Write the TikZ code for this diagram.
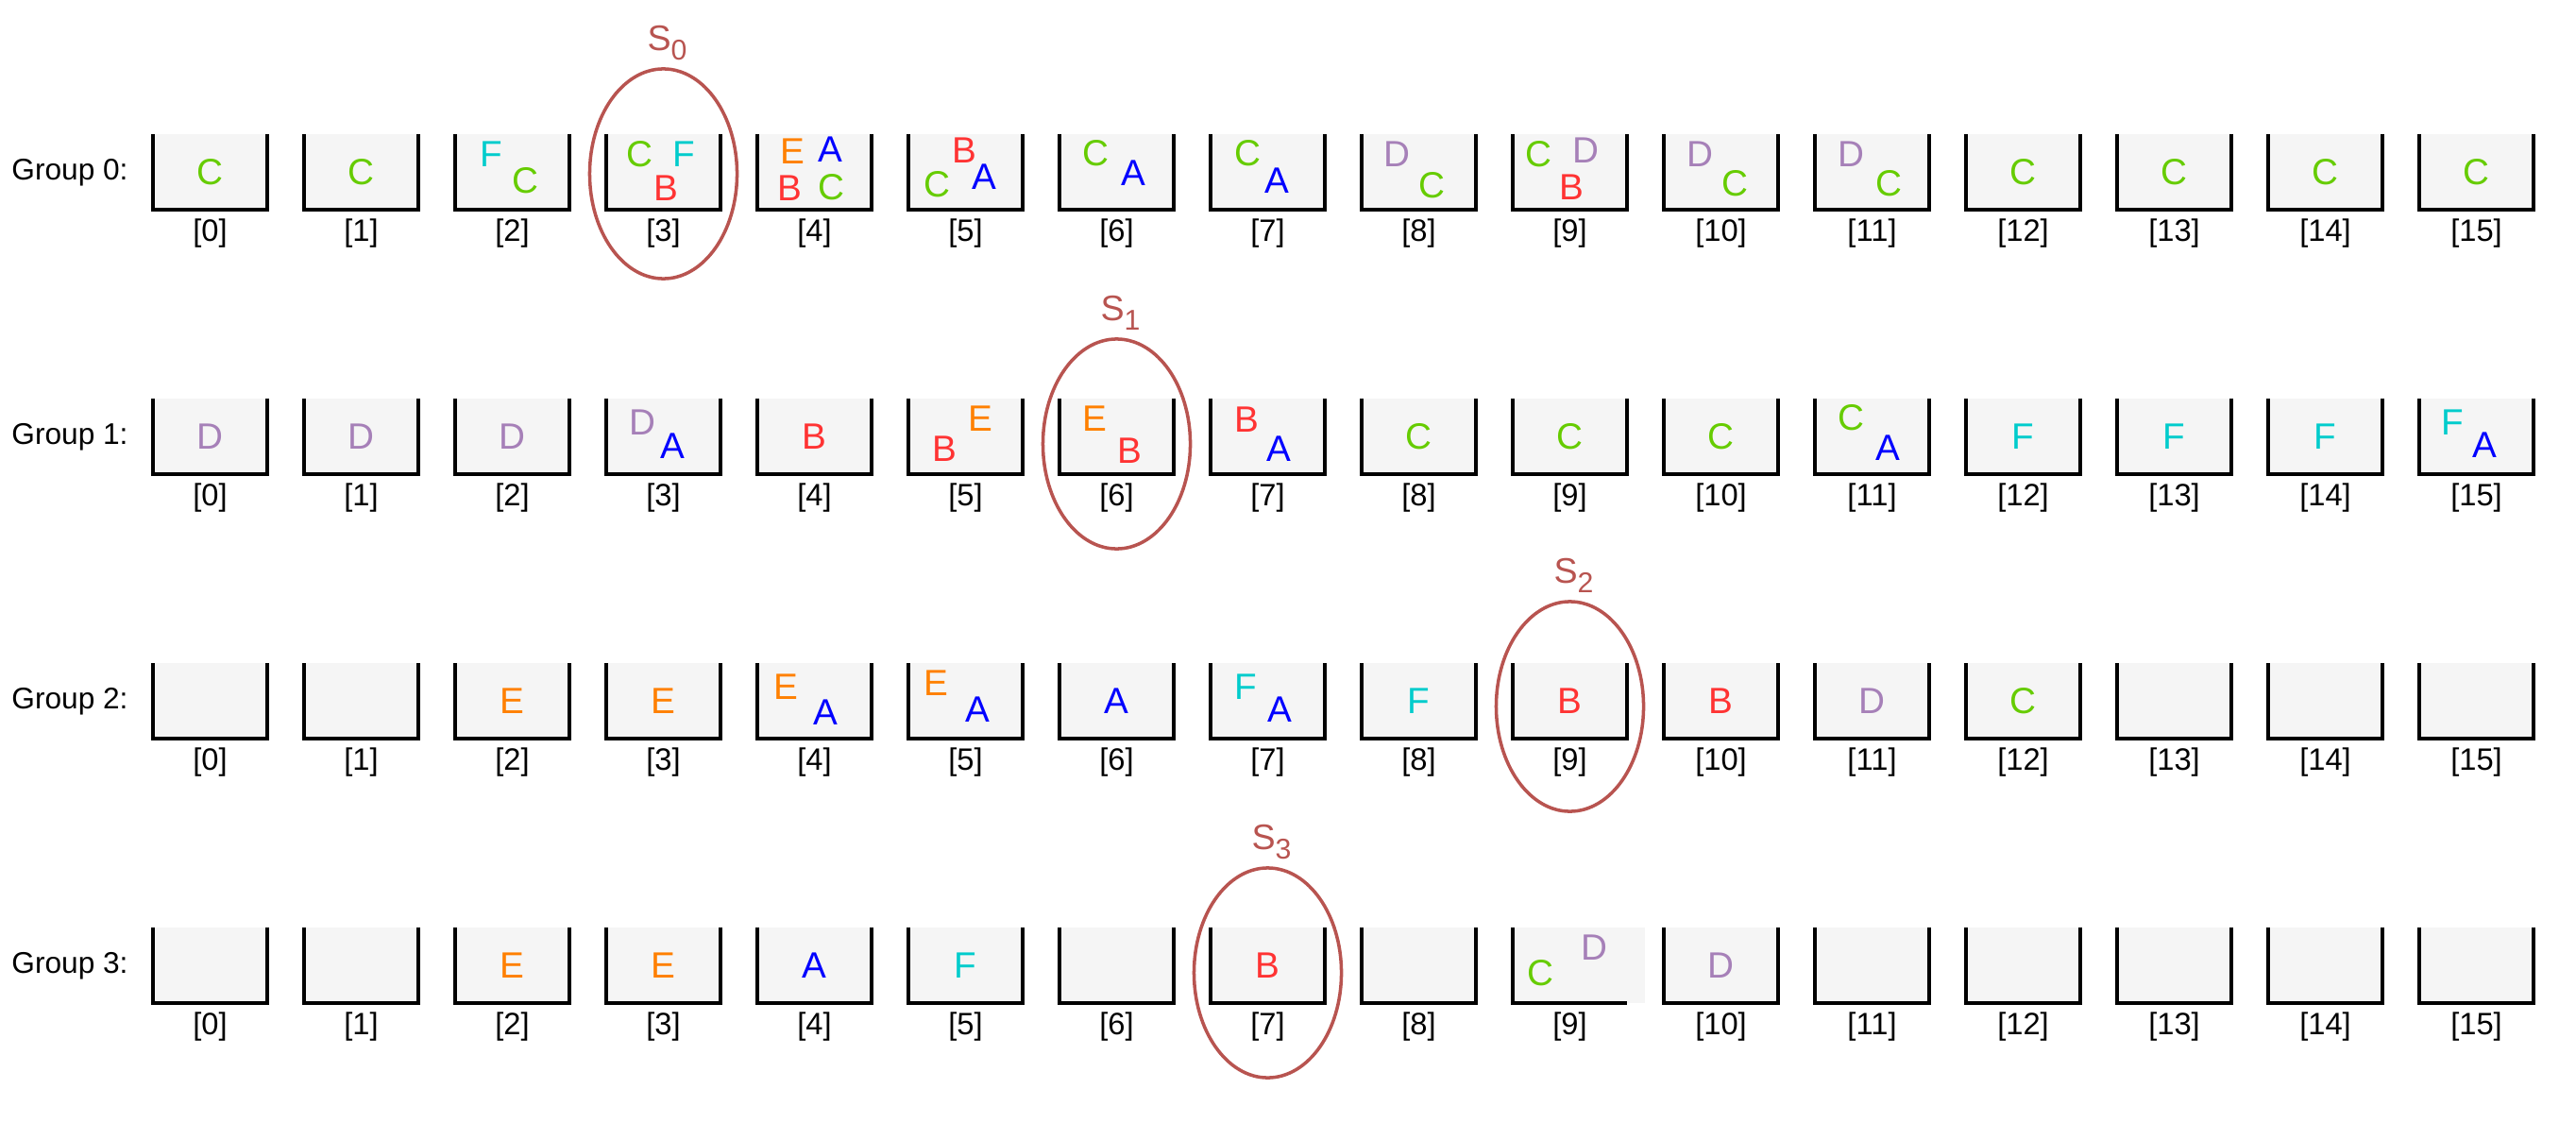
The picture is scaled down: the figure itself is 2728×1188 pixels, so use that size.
\documentclass[tikz,border=0pt]{standalone}
\usepackage{fontspec}
\setmainfont{Liberation Sans}
\usetikzlibrary{shapes.geometric}
\definecolor{ltrgreen}{HTML}{66CC00}
\definecolor{ltrcyan}{HTML}{00CCCC}
\definecolor{ltrred}{HTML}{FF3333}
\definecolor{ltrblue}{HTML}{0000FF}
\definecolor{ltrorange}{HTML}{FF8000}
\definecolor{ltrpurple}{HTML}{A680B8}
\definecolor{pickred}{HTML}{B85450}
\definecolor{slotgray}{HTML}{F5F5F5}
\begin{document}
\begin{tikzpicture}[x=0.01cm,y=-0.01cm,
  slot/.style={draw=black,line width=1.1pt},
  slotF/.style={fill=slotgray},
  idx/.style={font=\fontsize{9.3}{11}\selectfont},
  grp/.style={anchor=east,font=\fontsize{9}{11}\selectfont},
  ltr/.style={inner sep=0pt,font=\fontsize{11}{12}\selectfont},
  ltrA/.style={ltr,text=ltrblue},ltrB/.style={ltr,text=ltrred},
  ltrC/.style={ltr,text=ltrgreen},ltrD/.style={ltr,text=ltrpurple},
  ltrE/.style={ltr,text=ltrorange},ltrF/.style={ltr,text=ltrcyan},
  pick/.style={shape=ellipse,draw=pickred,line width=1pt,inner sep=0pt,minimum width=1.56cm,minimum height=2.22cm},
  pickS/.style={anchor=base,text=pickred,font=\fontsize{10.7}{12}\selectfont}]
\def\dx{160};
\def\dy{280};
\useasboundingbox (0,0) rectangle (2728,1188);

\foreach \r in {0,...,3}{
  \node[grp] (g\r) at (148,183+\r*\dy) {Group \r:};
  \foreach \i in {0,...,15}{
    \coordinate (b\r-\i) at (222.5+\i*\dx,182+\r*\dy);
    \pgfmathtruncatemacro\k{16*\r+\i}
    \ifnum\k=57
      \fill[slotF] (162+\i*\dx,142+\r*\dy) rectangle ++(140,80);
      \draw[slot] (162+\i*\dx,142+\r*\dy) -- ++(0,80) -- ++(121,0);
    \else
      \fill[slotF] (162+\i*\dx,142+\r*\dy) rectangle ++(121,80);
      \draw[slot] (162+\i*\dx,142+\r*\dy) -- ++(0,80) -- ++(121,0) -- ++(0,-80);
    \fi
    \node[idx] (n\r-\i) at (222.5+\i*\dx,247+\r*\dy) {[\i]};
  }
}

% group 0
\node[ltrC] (l0-0C) at (b0-0) {C};
\node[ltrC] (l0-1C) at (b0-1) {C};
\node[ltrF] (l0-2F) at ([shift={(-22,-19)}]b0-2) {F};
\node[ltrC] (l0-2C) at ([shift={(14,9)}]b0-2) {C};
\node[ltrC] (l0-3C) at ([shift={(-25,-19)}]b0-3) {C};
\node[ltrF] (l0-3F) at ([shift={(22,-19)}]b0-3) {F};
\node[ltrB] (l0-3B) at ([shift={(3,17)}]b0-3) {B};
\node[ltrE] (l0-4E) at ([shift={(-23,-22)}]b0-4) {E};
\node[ltrA] (l0-4A) at ([shift={(17,-24)}]b0-4) {A};
\node[ltrB] (l0-4B) at ([shift={(-26,17)}]b0-4) {B};
\node[ltrC] (l0-4C) at ([shift={(18,16)}]b0-4) {C};
\node[ltrB] (l0-5B) at ([shift={(-1,-23)}]b0-5) {B};
\node[ltrC] (l0-5C) at ([shift={(-30,13)}]b0-5) {C};
\node[ltrA] (l0-5A) at ([shift={(20,5)}]b0-5) {A};
\node[ltrC] (l0-6C) at ([shift={(-22,-20)}]b0-6) {C};
\node[ltrA] (l0-6A) at ([shift={(18,1)}]b0-6) {A};
\node[ltrC] (l0-7C) at ([shift={(-21,-20)}]b0-7) {C};
\node[ltrA] (l0-7A) at ([shift={(10,9)}]b0-7) {A};
\node[ltrD] (l0-8D) at ([shift={(-23,-19)}]b0-8) {D};
\node[ltrC] (l0-8C) at ([shift={(14,14)}]b0-8) {C};
\node[ltrC] (l0-9C) at ([shift={(-33,-19)}]b0-9) {C};
\node[ltrD] (l0-9D) at ([shift={(17,-23)}]b0-9) {D};
\node[ltrB] (l0-9B) at ([shift={(2,16)}]b0-9) {B};
\node[ltrD] (l0-10D) at ([shift={(-22,-19)}]b0-10) {D};
\node[ltrC] (l0-10C) at ([shift={(15,12)}]b0-10) {C};
\node[ltrD] (l0-11D) at ([shift={(-22,-19)}]b0-11) {D};
\node[ltrC] (l0-11C) at ([shift={(18,12)}]b0-11) {C};
\node[ltrC] (l0-12C) at (b0-12) {C};
\node[ltrC] (l0-13C) at (b0-13) {C};
\node[ltrC] (l0-14C) at (b0-14) {C};
\node[ltrC] (l0-15C) at (b0-15) {C};

% group 1
\node[ltrD] (l1-0D) at (b1-0) {D};
\node[ltrD] (l1-1D) at (b1-1) {D};
\node[ltrD] (l1-2D) at (b1-2) {D};
\node[ltrD] (l1-3D) at ([shift={(-22,-15)}]b1-3) {D};
\node[ltrA] (l1-3A) at ([shift={(10,10)}]b1-3) {A};
\node[ltrB] (l1-4B) at (b1-4) {B};
\node[ltrE] (l1-5E) at ([shift={(16,-19)}]b1-5) {E};
\node[ltrB] (l1-5B) at ([shift={(-22,13)}]b1-5) {B};
\node[ltrE] (l1-6E) at ([shift={(-23,-19)}]b1-6) {E};
\node[ltrB] (l1-6B) at ([shift={(14,15)}]b1-6) {B};
\node[ltrB] (l1-7B) at ([shift={(-22,-18)}]b1-7) {B};
\node[ltrA] (l1-7A) at ([shift={(12,13)}]b1-7) {A};
\node[ltrC] (l1-8C) at (b1-8) {C};
\node[ltrC] (l1-9C) at (b1-9) {C};
\node[ltrC] (l1-10C) at (b1-10) {C};
\node[ltrC] (l1-11C) at ([shift={(-22,-20)}]b1-11) {C};
\node[ltrA] (l1-11A) at ([shift={(17,12)}]b1-11) {A};
\node[ltrF] (l1-12F) at (b1-12) {F};
\node[ltrF] (l1-13F) at (b1-13) {F};
\node[ltrF] (l1-14F) at (b1-14) {F};
\node[ltrF] (l1-15F) at ([shift={(-25,-15)}]b1-15) {F};
\node[ltrA] (l1-15A) at ([shift={(9,9)}]b1-15) {A};

% group 2
\node[ltrE] (l2-2E) at (b2-2) {E};
\node[ltrE] (l2-3E) at (b2-3) {E};
\node[ltrE] (l2-4E) at ([shift={(-30,-15)}]b2-4) {E};
\node[ltrA] (l2-4A) at ([shift={(12,12)}]b2-4) {A};
\node[ltrE] (l2-5E) at ([shift={(-31,-19)}]b2-5) {E};
\node[ltrA] (l2-5A) at ([shift={(13,9)}]b2-5) {A};
\node[ltrA] (l2-6A) at (b2-6) {A};
\node[ltrF] (l2-7F) at ([shift={(-23,-15)}]b2-7) {F};
\node[ltrA] (l2-7A) at ([shift={(13,9)}]b2-7) {A};
\node[ltrF] (l2-8F) at (b2-8) {F};
\node[ltrB] (l2-9B) at (b2-9) {B};
\node[ltrB] (l2-10B) at (b2-10) {B};
\node[ltrD] (l2-11D) at (b2-11) {D};
\node[ltrC] (l2-12C) at (b2-12) {C};

% group 3
\node[ltrE] (l3-2E) at (b3-2) {E};
\node[ltrE] (l3-3E) at (b3-3) {E};
\node[ltrA] (l3-4A) at (b3-4) {A};
\node[ltrF] (l3-5F) at (b3-5) {F};
\node[ltrB] (l3-7B) at (b3-7) {B};
\node[ltrC] (l3-9C) at ([shift={(-31,8)}]b3-9) {C};
\node[ltrD] (l3-9D) at ([shift={(26,-19)}]b3-9) {D};
\node[ltrD] (l3-10D) at (b3-10) {D};

% picked slots
\node[pick] (sel0) at ([shift={(0,2)}]b0-3) {};
\node[pick] (sel1) at ([shift={(0,8)}]b1-6) {};
\node[pick] (sel2) at ([shift={(0,6)}]b2-9) {};
\node[pick] (sel3) at ([shift={(0,8)}]b3-7) {};
\node[pickS] (s0) at ([shift={(4,-18)}]sel0.north) {S\raisebox{-0.28em}{\fontsize{8.6}{10}\selectfont 0}};
\node[pickS] (s1) at ([shift={(4,-18)}]sel1.north) {S\raisebox{-0.28em}{\fontsize{8.6}{10}\selectfont 1}};
\node[pickS] (s2) at ([shift={(4,-18)}]sel2.north) {S\raisebox{-0.28em}{\fontsize{8.6}{10}\selectfont 2}};
\node[pickS] (s3) at ([shift={(4,-18)}]sel3.north) {S\raisebox{-0.28em}{\fontsize{8.6}{10}\selectfont 3}};
\end{tikzpicture}
\end{document}
